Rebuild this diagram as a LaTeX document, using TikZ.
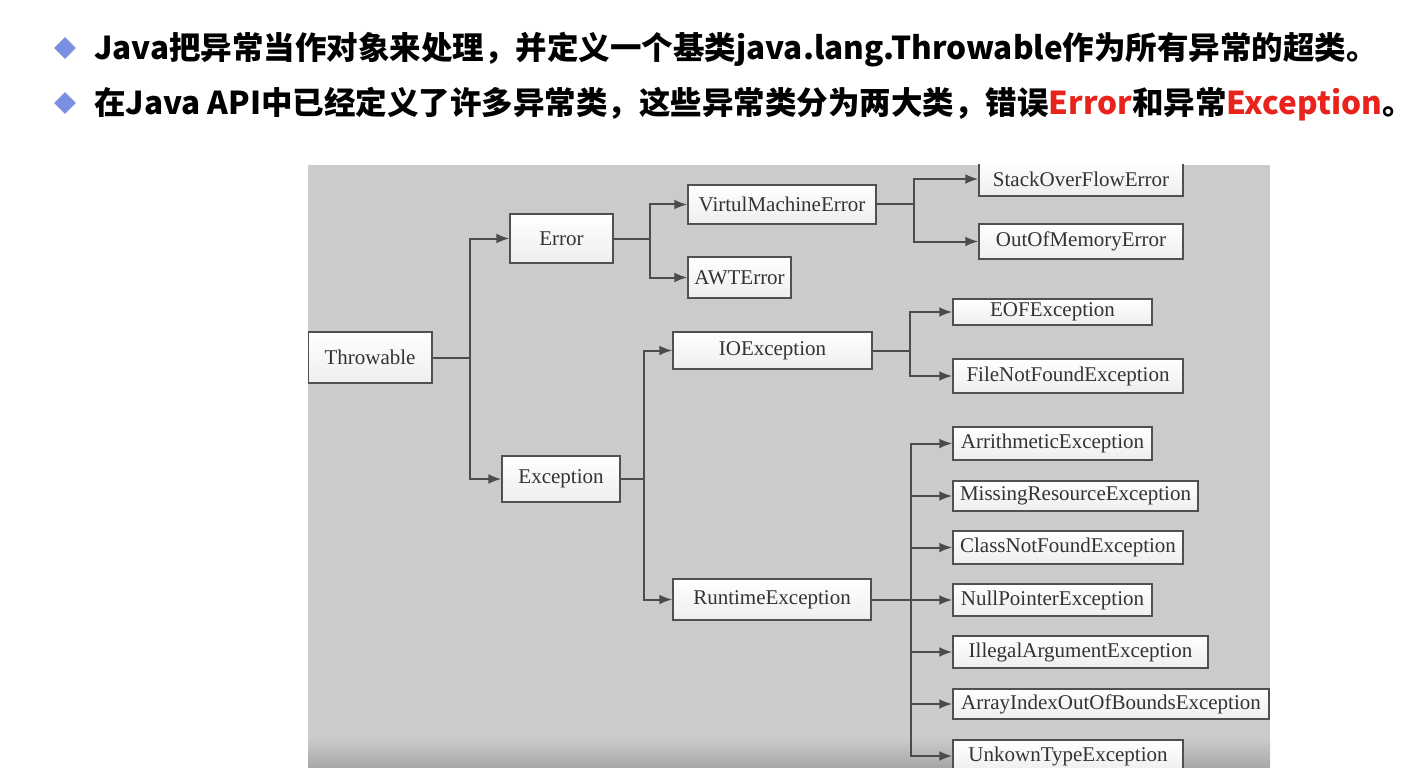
\documentclass[tikz,border=0pt]{standalone}
\usepackage{fontspec}
\newfontfamily\cjk{Noto Sans CJK SC}
\newfontfamily\boxfont{Liberation Serif}
\usetikzlibrary{arrows.meta,shapes.geometric}

\definecolor{bggray}{RGB}{203,203,203}
\definecolor{bgdark}{RGB}{168,168,168}
\definecolor{boxline}{RGB}{80,80,80}
\definecolor{boxbot}{RGB}{238,238,238}
\definecolor{linkgray}{RGB}{75,75,75}
\definecolor{bulletblue}{RGB}{123,143,226}
\definecolor{hired}{RGB}{232,35,27}

\tikzset{
  cls/.style n args={2}{draw=boxline, line width=1.5pt, top color=white, bottom color=boxbot,
    minimum width=#1, minimum height=#2, inner sep=0pt, font=\boxfont\fontsize{21}{24}\selectfont,
    text=black!80},
  link/.style={draw=linkgray, line width=2pt},
  arr/.style={link, -{Latex[length=13pt,width=10pt]}},
  bullet/.style={diamond, fill=bulletblue, inner sep=0pt, minimum width=22pt, minimum height=22pt},
  headline/.style={anchor=base west, inner sep=0pt, font=\cjk\bfseries\fontsize{31.5}{36}\selectfont}
}

\begin{document}
\begin{tikzpicture}[x=1pt, y=-1pt]
        \useasboundingbox (0,0) rectangle (1421,778);

        % Header lines
        \node[bullet] (b1) at (65,48) {};
        \node[headline] (h1) at (94,60) {Java把异常当作对象来处理，并定义一个基类java.lang.Throwable作为所有异常的超类。};
        \node[bullet] (b2) at (65,103) {};
        \node[headline] (h2) at (94,115) {在Java API中已经定义了许多异常类，这些异常类分为两大类，错误\textcolor{hired}{Error}和异常\textcolor{hired}{Exception}。};

        % Grey panel
        \fill[bggray] (308,165) rectangle (1270,767);
        \shade[top color=bggray, bottom color=bgdark] (308,738) rectangle (1270,767);

        \begin{scope}
        \clip (308,165) rectangle (1270,767);

        % Classes
        \node[cls={124pt}{51pt}] (throwable) at (370,357.5) {Throwable};
        \node[cls={103pt}{49pt}] (error) at (561.5,238.5) {Error};
        \node[cls={118pt}{46pt}] (exception) at (561,479) {Exception};

        \node[cls={188pt}{39pt}] (vme) at (782,204.5) {VirtulMachineError};
        \node[cls={103pt}{41pt}] (awt) at (739.5,277.5) {AWTError};
        \node[cls={199pt}{37pt}] (io) at (772.5,350.5) {IOException};
        \node[cls={198pt}{41pt}] (runtime) at (772,599.5) {RuntimeException};

        \node[cls={204pt}{34pt}] (stack) at (1081,179) {StackOverFlowError};
        \node[cls={204pt}{35pt}] (oom) at (1081,241.5) {OutOfMemoryError};
        \node[cls={199pt}{26pt}] (eof) at (1052.5,312) {EOFException};
        \node[cls={230pt}{34pt}] (fnf) at (1068,376) {FileNotFoundException};

        \node[cls={199pt}{33pt}] (arith) at (1052.5,443.5) {ArrithmeticException};
        \node[cls={245pt}{30pt}] (missing) at (1075.5,496) {MissingResourceException};
        \node[cls={230pt}{33pt}] (cnf) at (1068,547.5) {ClassNotFoundException};
        \node[cls={199pt}{32pt}] (npe) at (1052.5,600) {NullPointerException};
        \node[cls={255pt}{32pt}] (illegal) at (1080.5,652) {IllegalArgumentException};
        \node[cls={316pt}{30pt}] (aioobe) at (1111,704) {ArrayIndexOutOfBoundsException};
        \node[cls={230pt}{32pt}] (unknown) at (1068,756) {UnkownTypeException};

        % Branch points
        \coordinate (jt) at (470,357.5);
        \coordinate (je) at (650,238.5);
        \coordinate (jx) at (644,479);
        \coordinate (jv) at (914,204.5);
        \coordinate (ji) at (910,350.5);
        \coordinate (jr) at (911,599.5);

        % Throwable
        \draw[link] (throwable) -- (jt);
        \draw[arr] (jt) |- (error.west);
        \draw[arr] (jt) |- (exception.west);

        % Error
        \draw[link] (error) -- (je);
        \draw[arr] (je) |- (vme.west);
        \draw[arr] (je) |- (awt.west);
        \draw[link] (vme) -- (jv);
        \draw[arr] (jv) |- (stack.west);
        \draw[arr] (jv) |- (oom.west);

        % Exception
        \draw[link] (exception) -- (jx);
        \draw[arr] (jx) |- (io.west);
        \draw[arr] (jx) |- (runtime.west);
        \draw[link] (io) -- (ji);
        \draw[arr] (ji) |- (eof.west);
        \draw[arr] (ji) |- (fnf.west);

        % RuntimeException
        \draw[link] (runtime) -- (jr);
        \foreach \c in {arith,missing,cnf,npe,illegal,aioobe,unknown}
          \draw[arr] (jr) |- (\c.west);
        \end{scope}
    \end{tikzpicture}
\end{document}
